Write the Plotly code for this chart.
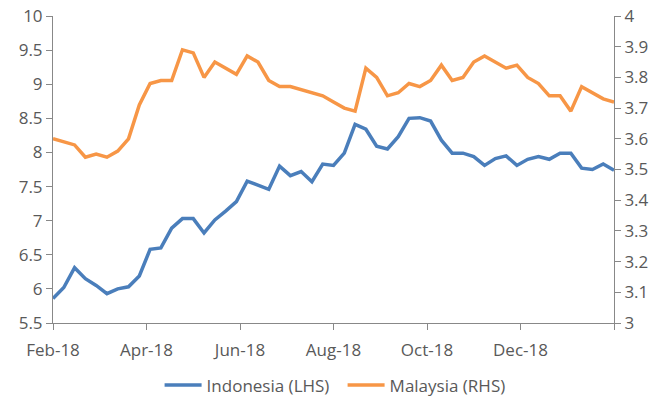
import plotly.graph_objects as go

tick_labels = ["Feb-18", "Apr-18", "Jun-18", "Aug-18", "Oct-18", "Dec-18", ""]
n_weeks = 53

indonesia = [5.86, 6.02, 6.31, 6.15, 6.05, 5.93, 6.00, 6.03, 6.19, 6.58,
             6.60, 6.89, 7.03, 7.03, 6.82, 7.01, 7.14, 7.28, 7.58, 7.52,
             7.46, 7.80, 7.66, 7.72, 7.57, 7.83, 7.81, 7.99, 8.41, 8.34,
             8.09, 8.05, 8.23, 8.50, 8.51, 8.46, 8.18, 7.99, 7.99, 7.94,
             7.81, 7.91, 7.95, 7.81, 7.90, 7.94, 7.90, 7.99, 7.99, 7.77,
             7.75, 7.83, 7.74]

malaysia = [3.60, 3.59, 3.58, 3.54, 3.55, 3.54, 3.56, 3.60, 3.71, 3.78,
            3.79, 3.79, 3.89, 3.88, 3.80, 3.85, 3.83, 3.81, 3.87, 3.85,
            3.79, 3.77, 3.77, 3.76, 3.75, 3.74, 3.72, 3.70, 3.69, 3.83,
            3.80, 3.74, 3.75, 3.78, 3.77, 3.79, 3.84, 3.79, 3.80, 3.85,
            3.87, 3.85, 3.83, 3.84, 3.80, 3.78, 3.74, 3.74, 3.69, 3.77,
            3.75, 3.73, 3.72]

x = list(range(n_weeks))
step = (n_weeks - 1) / (len(tick_labels) - 1)
tickvals = [i * step for i in range(len(tick_labels))]

FONT = "Open Sans"
GREY = "#595959"
AXIS = "#888888"

fig = go.Figure()
fig.add_trace(go.Scatter(x=x, y=indonesia, name="Indonesia (LHS)", mode="lines",
                         line=dict(color="#4A7EBB", width=3.5), yaxis="y"))
fig.add_trace(go.Scatter(x=x, y=malaysia, name="Malaysia (RHS)", mode="lines",
                         line=dict(color="#F79646", width=3.5), yaxis="y2"))

fig.update_layout(
    width=659, height=400,
    margin=dict(l=53, r=45, t=16, b=77, autoexpand=False),
    paper_bgcolor="white", plot_bgcolor="white",
    font=dict(family=FONT, size=17, color=GREY),
    showlegend=True,
    legend=dict(orientation="h", x=0.19, xanchor="left", y=-0.145, yanchor="top",
                font=dict(size=17, color=GREY), itemwidth=37, entrywidth=131,
                entrywidthmode="pixels", tracegroupgap=0),
    xaxis=dict(range=[0, n_weeks - 1], tickmode="array", tickvals=tickvals,
               ticktext=tick_labels, showgrid=False, zeroline=False,
               showline=True, linecolor=AXIS, linewidth=1, automargin=False,
               ticks="outside", ticklen=6, tickcolor=AXIS, ticklabelstandoff=6),
    yaxis=dict(range=[5.5, 10], dtick=0.5, showgrid=False, zeroline=False,
               showline=True, linecolor=AXIS, linewidth=1, automargin=False,
               ticks="outside", ticklen=6, tickcolor=AXIS),
    yaxis2=dict(range=[3, 4], dtick=0.1, overlaying="y", side="right",
                showgrid=False, zeroline=False, showline=True, linecolor=AXIS,
                linewidth=1, automargin=False, ticks="outside", ticklen=6,
                tickcolor=AXIS, tickformat="~g"),
)

fig.write_html("out.html",
               config={"displayModeBar": False},
               post_script="document.body.style.margin='0';document.body.style.overflow='hidden';")
